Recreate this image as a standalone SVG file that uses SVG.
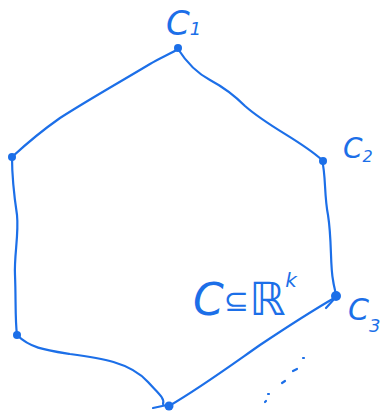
<svg xmlns="http://www.w3.org/2000/svg" width="383" height="417" viewBox="0 0 383 417">
<style>
.e{fill:none;stroke:#1c6fe8;stroke-width:2.2;stroke-linecap:round;stroke-linejoin:round}
.v{fill:#1c6fe8}
.t{fill:#1c6fe8;font-family:"DejaVu Sans","Liberation Sans",sans-serif;font-style:italic}
</style>
<rect width="383" height="417" fill="#fff"/>
<g id="connectors">
<path class="e" d="M178,49 C172,53 160,58 150,64 C120,82 88,100 60,118 C40,132 25,145 12,157"/>
<path class="e" d="M178,49 C185,60 195,72 210,80 C225,88 235,96 245,106 C270,128 300,140 322,160"/>
<path class="e" d="M322,160 C326,175 324,195 328,215 C332,240 330,265 333,280 C334,288 336,292 336,297"/>
<path class="e" d="M336,297 C310,312 290,325 260,345 C230,366 200,388 169,406"/>
<path class="e" d="M17,335 C30,348 45,350 70,354 C100,358 130,362 148,382 C158,393 165,398 163,404 M153,408 L167,405"/>
<path class="e" d="M12,157 C12,180 14,195 17,215 C19,235 14,255 15,275 C16,300 15,320 17,335"/>
<path class="e" d="M336,297 L326,308"/>
<path class="e" d="M265,402 L266,401 M268,394 L269,394 M282,383 L285,381 M293,371 L297,369 M303,358 L304,358"/>
</g>
<g id="n_c1"><circle class="v" cx="178" cy="48" r="4"/><text class="t" x="166" y="35" font-size="34">C<tspan font-size="18">1</tspan></text></g>
<g id="n_c2"><circle class="v" cx="323" cy="161" r="4"/><text class="t" x="343" y="158" font-size="28">C<tspan font-size="16" dy="4">2</tspan></text></g>
<g id="n_c3"><circle class="v" cx="336" cy="296" r="5"/><text class="t" x="348" y="320" font-size="30">C<tspan font-size="18" dy="12">3</tspan></text></g>
<g id="n_v4"><circle class="v" cx="169" cy="406" r="4.5"/></g>
<g id="n_v5"><circle class="v" cx="17" cy="335" r="4"/></g>
<g id="n_v6"><circle class="v" cx="12" cy="157" r="4"/></g>
<g id="label"><text class="t" x="193" y="315" font-size="44">C<tspan font-size="30" dy="-4">⊆</tspan><tspan font-size="46" dy="4">ℝ</tspan><tspan font-size="20" dy="-28">k</tspan></text></g>
</svg>
